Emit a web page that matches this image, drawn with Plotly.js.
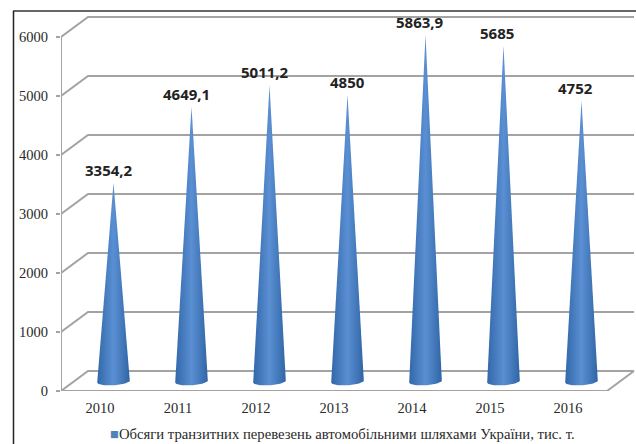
<!DOCTYPE html>
<html>
<head>
<meta charset="utf-8">
<script src="https://cdn.plot.ly/plotly-3.0.1.min.js"></script>
<style>html,body{margin:0;padding:0;background:#fff}#c{width:636px;height:444px}</style>
</head>
<body>
<div id="c"></div>
<script>
const years = ['2010','2011','2012','2013','2014','2015','2016'];
const transit = [3354.2,4649.1,5011.2,4850,5863.9,5685,4752];
const labels = ['3354,2','4649,1','5011,2','4850','5863,9','5685','4752'];
const labelShiftX = [-5,-5.5,-5,0,-6,-6.5,-6.5];
const gridValues = [0,1000,2000,3000,4000,5000,6000];
const legendText = 'Обсяги транзитних перевезень автомобільними шляхами України, тис. т.';

// plot geometry
const W = 636, H = 444, L = 61, B = 391, T = 10;
const pxPerUnitY = 0.059, pxPerCat = 78;
const xRange = [-0.5, -0.5 + (W - L) / pxPerCat];
const yRange = [0, (B - T) / pxPerUnitY];
const depthX = 27 / pxPerCat, depthY = 20 / pxPerUnitY;   // oblique depth of the floor
const coneDepth = 0.5, coneRx = 16.3 / pxPerCat, coneRy = 3.8 / pxPerUnitY;
const grey = '#a3a3a3';

const traces = [];
// gridlines: front edge to the back wall, then along the back wall
const gx = [], gy = [];
gridValues.forEach(v => {
  gx.push(-0.5, -0.5 + depthX, 6.5 + depthX, null);
  gy.push(v, v + depthY, v + depthY, null);
});
traces.push({x:gx,y:gy,mode:'lines',line:{color:grey,width:2},hoverinfo:'skip',showlegend:false,cliponaxis:false});
// front floor edge, left wall edge, right floor side, category ticks
const ax = [-0.5,-0.5,null,-0.5,6.5,6.5+depthX,null];
const ay = [6000,0,null,0,0,depthY,null];
for (let i=0;i<=7;i++){ ax.push(i-0.5,i-0.5,null); ay.push(0,-3.5/pxPerUnitY,null); }
traces.push({x:ax,y:ay,mode:'lines',line:{color:grey,width:2},hoverinfo:'skip',showlegend:false,cliponaxis:false});
// cones
transit.forEach((v,i) => {
  const cx = i + coneDepth*depthX, cy = coneDepth*depthY - 0.5/pxPerUnitY;
  const xs = [], ys = [];
  for (let a=0;a<=36;a++){
    const t = Math.PI*a/36;
    const px = cx - coneRx*Math.cos(t);
    xs.push(px);
    ys.push(cy - coneRy*Math.sin(t) + (px-cx)/coneRx*0.9/pxPerUnitY);
  }
  xs.push(cx); ys.push(coneDepth*depthY + v);
  xs.push(xs[0]); ys.push(ys[0]);
  traces.push({
    x:xs,y:ys,mode:'lines',fill:'toself',line:{width:0,color:'#3f72af'},
    fillgradient:{type:'horizontal',colorscale:[[0,'#3268a9'],[0.5,'#5a90d3'],[1,'#3065a5']]},
    hoverinfo:'skip',showlegend:false,name:years[i],cliponaxis:false
  });
});

const annotations = transit.map((v,i)=>({
  x:i+coneDepth*depthX,y:coneDepth*depthY+v,xref:'x',yref:'y',text:labels[i],showarrow:false,
  xanchor:'center',yanchor:'bottom',xshift:labelShiftX[i],yshift:1,
  font:{family:'Open Sans, sans-serif',size:15,color:'#222',weight:700}
}));
annotations.push({
  xref:'paper',yref:'paper',x:(342-L)/(W-L),y:(B-433.5)/(B-T),showarrow:false,xanchor:'center',yanchor:'middle',
  text:'<span style="color:#4f81bd">■</span>'+legendText,
  font:{family:'Liberation Serif, serif',size:14.7,color:'#2a2a2a'}
});

const layout = {
  width:W,height:H,margin:{l:L,r:0,t:T,b:H-B,pad:0},
  paper_bgcolor:'#fff',plot_bgcolor:'#fff',showlegend:false,
  xaxis:{range:xRange,tickmode:'array',tickvals:years.map((_,i)=>i),ticktext:years,ticks:'',showgrid:false,zeroline:false,showline:false,ticklabelstandoff:6,
    tickfont:{family:'Liberation Serif, serif',size:14.5,color:'#2a2a2a'}},
  yaxis:{range:yRange,tickmode:'array',tickvals:gridValues,ticktext:gridValues.map(String),ticks:'outside',ticklen:4,tickwidth:2,tickcolor:grey,showgrid:false,zeroline:false,showline:false,ticklabelstandoff:5,
    tickfont:{family:'Liberation Serif, serif',size:14.5,color:'#2a2a2a'}},
  annotations,
  shapes:[
    {type:'line',xref:'paper',yref:'paper',x0:(13-L)/(W-L),x1:1,y0:(B-11)/(B-T),y1:(B-11)/(B-T),line:{color:'#666',width:2}},
    {type:'line',xref:'paper',yref:'paper',x0:(13.5-L)/(W-L),x1:(13.5-L)/(W-L),y0:(B-11)/(B-T),y1:(B-444)/(B-T),line:{color:'#222',width:1.5}}
  ]
};
Plotly.newPlot('c',traces,layout,{displayModeBar:false,staticPlot:true});
</script>
</body>
</html>
